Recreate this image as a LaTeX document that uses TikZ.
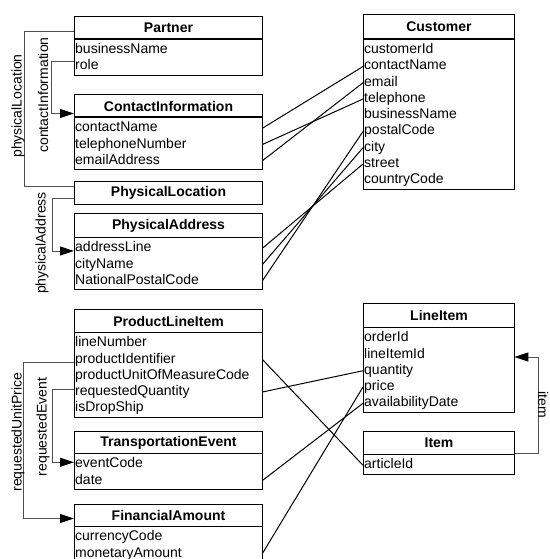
\documentclass[tikz,border=0pt]{standalone}
\usepackage{fontspec}
\setmainfont{Liberation Sans}
\usetikzlibrary{arrows.meta}
\definecolor{assocgray}{RGB}{80,80,80}
\newcommand\diagfont{\fontsize{14pt}{16pt}\selectfont}

% class box: name, left x, top y, width, header height, title, number of attributes, attributes
\newcommand\umlclass[8]{%
  \node[classhead, minimum width=#4pt, minimum height=#5pt] (#1) at (#2,#3) {#6};
  \pgfmathsetmacro\bodytop{#3+#5}%
  \pgfmathsetmacro\bodybot{#3+#5+16.25*#7+4}%
  \pgfmathsetmacro\attrw{#4-2}%
  \draw[classbody] (#2,\bodytop) rectangle (#2+#4,\bodybot);
  \foreach \r [count=\i from 0] in {#8}{%
    \node[attr, text width=\attrw pt] (#1-\r) at (#2,\bodytop+11.25+16.25*\i) {\r};
  }%
}

\tikzset{
  classhead/.style={draw=black, line width=1pt, anchor=north west, inner sep=0pt,
    font=\diagfont\bfseries},
  classbody/.style={draw=black, line width=1pt},
  attr/.style={anchor=west, inner xsep=1pt, inner ysep=0pt, align=left,
    text height=10pt, text depth=3pt, font=\diagfont},
  link/.style={draw=black, line width=1pt},
  assoc/.style={draw=assocgray, line width=1pt},
  assocarrow/.style={assoc, -{Triangle[length=14pt, width=9pt, color=black]}},
  rolelabel/.style={font=\diagfont, inner sep=0pt, rotate=90},
}

\begin{document}
\begin{tikzpicture}[x=1pt, y=-1pt]
\useasboundingbox (0,0) rectangle (549,559);
\fill[white] (0,0) rectangle (549,559);

% classes
\umlclass{partner}{74}{16}{188}{23}{Partner}{2}{businessName,role}
\umlclass{ci}{74}{94}{188}{23}{ContactInformation}{3}{contactName,telephoneNumber,emailAddress}
\node[classhead, minimum width=188pt, minimum height=23pt] (physloc) at (74,181) {PhysicalLocation};
\umlclass{pa}{74}{213}{188}{24}{PhysicalAddress}{3}{addressLine,cityName,NationalPostalCode}
\umlclass{cust}{363}{14}{151}{25}{Customer}{9}{customerId,contactName,email,telephone,businessName,postalCode,city,street,countryCode}
\umlclass{pli}{74}{309}{188}{23}{ProductLineItem}{5}{lineNumber,productIdentifier,productUnitOfMeasureCode,requestedQuantity,isDropShip}
\umlclass{te}{74}{431}{188}{22}{TransportationEvent}{2}{eventCode,date}
\umlclass{fa}{74}{504}{188}{22}{FinancialAmount}{2}{currencyCode,monetaryAmount}
\umlclass{li}{363}{303}{151}{24}{LineItem}{5}{orderId,lineItemId,quantity,price,availabilityDate}
\umlclass{item}{363}{431}{151}{23}{Item}{1}{articleId}

% role associations
\draw[assoc] ([yshift=-3.5pt]partner.west) -- ++(-50,0) |- ([yshift=6.5pt]physloc.west);
\draw[assocarrow] ([yshift=4.5pt]partner-role.west) -- ++(-23,0) |- ([yshift=-7.5pt]ci.west);
\draw[assocarrow] ([yshift=-5.5pt]physloc.west) -- ++(-22,0) |- ([yshift=-2.75pt]pa-addressLine.west);
\draw[assocarrow] ([yshift=-2.5pt]pli-productIdentifier.west) -- ++(-51,0) |- ([yshift=-3pt]fa.west);
\draw[assocarrow] ([yshift=3pt]pli-requestedQuantity.west) -- ++(-22,0) |- ([yshift=2pt]te-eventCode.west);
\draw[assocarrow] ([yshift=-10.5pt]item.east) -- ++(23,0) |- ([yshift=-2.5pt]li-lineItemId.east);

\node[rolelabel] (lblphysloc) at (18,106) {physicalLocation};
\node[rolelabel] (lblcontact) at (43,95) {contactInformation};
\node[rolelabel] (lbladdress) at (42,243) {physicalAddress};
\node[rolelabel] (lblprice) at (18,432) {requestedUnitPrice};
\node[rolelabel] (lblevent) at (43,427) {requestedEvent};
\node[rolelabel, rotate=180] (lblitem) at (543,405) {item};

% attribute mappings
\draw[link] (ci-contactName.east) -- (cust-contactName.west);
\draw[link] (ci-telephoneNumber.east) -- (cust-telephone.west);
\draw[link] (ci-emailAddress.east) -- (cust-email.west);
\draw[link] (pa-addressLine.east) -- (cust-street.west);
\draw[link] (pa-cityName.east) -- (cust-city.west);
\draw[link] (pa-NationalPostalCode.east) -- (cust-postalCode.west);
\draw[link] (pli-productIdentifier.east) -- (item-articleId.west);
\draw[link] (pli-requestedQuantity.east) -- (li-quantity.west);
\draw[link] (te-date.east) -- (li-availabilityDate.west);
\draw[link] (fa-monetaryAmount.east) -- (li-price.west);
\end{tikzpicture}
\end{document}
